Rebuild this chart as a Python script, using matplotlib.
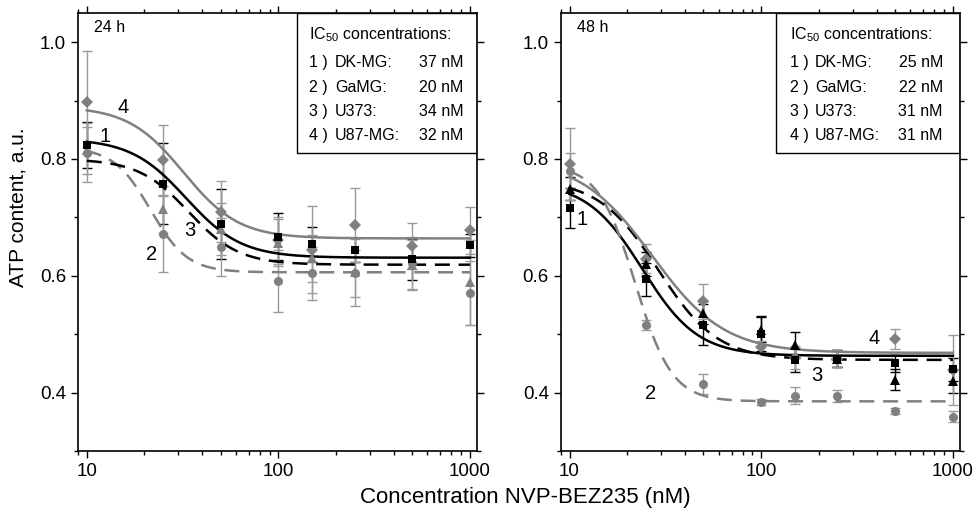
import numpy as np
import matplotlib
matplotlib.use('Agg')
import matplotlib.pyplot as plt
from matplotlib.ticker import FixedLocator, NullFormatter, FixedFormatter
from matplotlib.patches import Rectangle

plt.rcParams['font.family'] = ['Liberation Sans', 'DejaVu Sans']
plt.rcParams['mathtext.fontset'] = 'custom'
plt.rcParams['mathtext.rm'] = 'Liberation Sans'
plt.rcParams['mathtext.it'] = 'Liberation Sans'

conc = [10, 25, 50, 100, 150, 250, 500, 1000]
cell_lines = ['DK-MG', 'GaMG', 'U373', 'U87-MG']

# 24 h measurements (mean, error)
atp24_dkmg = [0.824, 0.758, 0.689, 0.667, 0.654, 0.644, 0.628, 0.652]
err24_dkmg = [0.04, 0.07, 0.06, 0.04, 0.03, 0.02, 0.035, 0.02]
atp24_gamg = [0.811, 0.671, 0.649, 0.591, 0.604, 0.604, 0.622, 0.571]
err24_gamg = [0.05, 0.065, 0.05, 0.053, 0.045, 0.04, 0.045, 0.055]
atp24_u373 = [0.815, 0.714, 0.680, 0.657, 0.630, 0.606, 0.618, 0.589]
err24_u373 = [0.04, 0.04, 0.045, 0.04, 0.04, 0.057, 0.043, 0.073]
atp24_u87 = [0.898, 0.799, 0.710, 0.661, 0.645, 0.687, 0.651, 0.678]
err24_u87 = [0.087, 0.06, 0.052, 0.04, 0.075, 0.063, 0.04, 0.04]

# 48 h measurements
atp48_dkmg = [0.716, 0.594, 0.516, 0.501, 0.456, 0.458, 0.450, 0.440]
err48_dkmg = [0.035, 0.028, 0.035, 0.03, 0.02, 0.015, 0.015, 0.02]
atp48_gamg = [0.780, 0.516, 0.415, 0.384, 0.395, 0.394, 0.369, 0.359]
err48_gamg = [0.03, 0.008, 0.017, 0.005, 0.015, 0.01, 0.005, 0.01]
atp48_u373 = [0.749, 0.620, 0.537, 0.508, 0.481, 0.458, 0.422, 0.419]
err48_u373 = [0.02, 0.02, 0.02, 0.021, 0.022, 0.015, 0.018, 0.02]
atp48_u87 = [0.791, 0.629, 0.556, 0.478, 0.460, 0.458, 0.492, 0.438]
err48_u87 = [0.062, 0.025, 0.03, 0.01, 0.02, 0.015, 0.017, 0.06]

# fitted dose-response curves: top, bottom, x50, hill slope
fit24 = [(0.835, 0.631, 33, 3.0), (0.82, 0.606, 21.5, 4.5),
         (0.80, 0.619, 34, 3.3), (0.89, 0.664, 32, 3.0)]
fit48 = [(0.76, 0.463, 24, 3.0), (0.79, 0.385, 22, 4.5),
         (0.765, 0.456, 29, 2.8), (0.80, 0.468, 27, 2.3)]

ic50_24 = ['37 nM', '20 nM', '34 nM', '32 nM']
ic50_48 = ['25 nM', '22 nM', '31 nM', '31 nM']

BLACK = '#000000'
GRAY = '#808080'
GRAY_ERR = '#9a9a9a'


def hill(c, top, bottom, x50, h):
    return bottom + (top - bottom) / (1 + (c / x50) ** h)


def panel(ax, vals, errs, fits, tri_col, hours, ic50, box_x, txt_x, name_x, val_x, nums):
    markers = ['s', 'o', '^', 'D']
    mcols = [BLACK, GRAY, tri_col, GRAY]
    ecols = [BLACK, GRAY_ERR, BLACK if tri_col == BLACK else GRAY_ERR, GRAY_ERR]
    lcols = [BLACK, GRAY, BLACK, GRAY]
    lstyles = ['-', (0, (6, 3.5)), (0, (6, 3.5)), '-']
    msize = [6, 6.5, 7, 6]
    cc = np.logspace(1, 3, 300)
    for i in range(4):
        ax.errorbar(conc, vals[i], yerr=errs[i], fmt='none', ecolor=ecols[i],
                    elinewidth=1, capsize=3.5, capthick=1, zorder=2)
    for i in range(4):
        ax.plot(cc, hill(cc, *fits[i]), color=lcols[i], ls=lstyles[i], lw=1.8, zorder=3)
    for i in [3, 1, 2, 0]:
        ax.plot(conc, vals[i], ls='none', marker=markers[i], color=mcols[i],
                ms=msize[i], mew=0, zorder=4)

    ax.set_xscale('log')
    ax.set_xlim(9, 1090)
    ax.set_ylim(0.3, 1.05)
    ax.xaxis.set_major_locator(FixedLocator([10, 100, 1000]))
    ax.xaxis.set_major_formatter(FixedFormatter(['10', '100', '1000']))
    ax.xaxis.set_minor_formatter(NullFormatter())
    ax.yaxis.set_major_locator(FixedLocator([0.4, 0.6, 0.8, 1.0]))
    ax.yaxis.set_major_formatter(FixedFormatter(['0.4', '0.6', '0.8', '1.0']))
    ax.yaxis.set_minor_locator(FixedLocator([0.3, 0.5, 0.7, 0.9]))
    ax.tick_params(which='both', direction='out', top=True, right=True,
                   labelsize=13.5, width=1)
    ax.tick_params(which='major', length=5)
    ax.tick_params(which='minor', length=3)
    for s in ax.spines.values():
        s.set_linewidth(1.2)

    ax.text(0.04, 0.968, hours, transform=ax.transAxes, fontsize=11.5, va='center')

    ax.add_patch(Rectangle((box_x, 0.68), 1 - box_x, 0.32, transform=ax.transAxes,
                           fill=False, ec='black', lw=1, zorder=5))
    ax.text(txt_x, 0.95, r'IC$_{50}$ concentrations:', transform=ax.transAxes,
            fontsize=11.5, va='center')
    for k in range(4):
        y = 0.886 - k * 0.0555
        ax.text(txt_x, y, '%d )' % (k + 1), transform=ax.transAxes, fontsize=11.5, va='center')
        ax.text(name_x, y, cell_lines[k] + ':', transform=ax.transAxes, fontsize=11.5, va='center')
        ax.text(val_x, y, ic50[k], transform=ax.transAxes, fontsize=11.5, va='center', ha='right')

    for lab, (x, y) in nums.items():
        ax.text(x, y, lab, fontsize=14.5, ha='center', va='center', zorder=6)


fig = plt.figure(figsize=(9.74, 5.14), dpi=100)
ax1 = fig.add_axes([0.0801, 0.1226, 0.4097, 0.8521])
ax2 = fig.add_axes([0.5757, 0.1226, 0.4100, 0.8521])

panel(ax1, [atp24_dkmg, atp24_gamg, atp24_u373, atp24_u87],
      [err24_dkmg, err24_gamg, err24_u373, err24_u87], fit24, GRAY, '24 h', ic50_24,
      0.549, 0.58, 0.644, 0.966,
      {'4': (15.4, 0.889), '1': (12.4, 0.839), '3': (34.5, 0.677), '2': (21.7, 0.636)})
panel(ax2, [atp48_dkmg, atp48_gamg, atp48_u373, atp48_u87],
      [err48_dkmg, err48_gamg, err48_u373, err48_u87], fit48, BLACK, '48 h', ic50_48,
      0.54, 0.573, 0.637, 0.957,
      {'1': (11.6, 0.697), '2': (26.4, 0.398), '3': (196, 0.429), '4': (386, 0.492)})

fig.text(0.018, 1 - 207 / 514, 'ATP content, a.u.', rotation=90, fontsize=15,
         ha='center', va='center')
fig.text(525 / 974, 1 - 498 / 514, 'Concentration NVP-BEZ235 (nM)', fontsize=16,
         ha='center', va='center')

fig.savefig('out.png', dpi=100)
